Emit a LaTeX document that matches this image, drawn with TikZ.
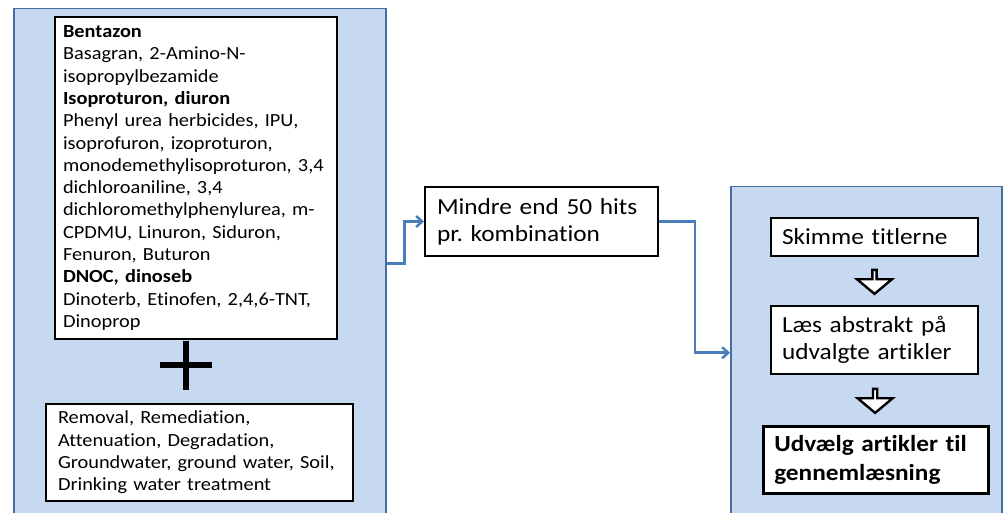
\documentclass[tikz,border=0pt]{standalone}
\usepackage{fontspec}
\setmainfont{Carlito}[FakeStretch=1.1,WordSpace=0.7,Ligatures=NoCommon]
\frenchspacing
\usetikzlibrary{arrows.meta,positioning,calc,shapes.arrows}
\usepackage{xcolor}
\definecolor{panelfill}{RGB}{198,217,241}
\definecolor{paneldraw}{RGB}{70,110,165}
\definecolor{flowblue}{RGB}{74,126,187}
\tikzset{
    panel/.style={
        draw=paneldraw,line width=1.5pt,fill=panelfill,
        anchor=north west,inner sep=0pt
    },
    textbox/.style={
        draw=black,line width=2pt,fill=white,align=left,
        anchor=north west,inner xsep=#1,inner ysep=5pt
    },
    textbox/.default=10pt,
    small/.style={font=\fontsize{18.5}{22.3}\selectfont},
    big/.style={font=\fontsize{23}{27}\selectfont},
    downarrow/.style={
        single arrow,draw=black,line width=2.4pt,fill=white,
        shape border rotate=270,minimum height=24pt,minimum width=35pt,
        single arrow head extend=8.5pt,single arrow tip angle=100,inner sep=0pt
    },
    flow/.style={
        -{Straight Barb[length=6pt,width=11pt]},line width=2.5pt,draw=flowblue
    }
}

\begin{document}
\begin{tikzpicture}[x=1pt,y=-1pt]

\useasboundingbox (0,0) rectangle (1005,513);

\node[panel,minimum width=372pt,minimum height=510pt]
(search) at (13,8){};

\node[panel,minimum width=271pt,minimum height=332pt]
(screen) at (730,186){};

\node[textbox=8pt,small,text width=266pt,minimum height=322pt]
(chem) at (54,16)
{\textbf{Bentazon}\\
Basagran, 2-Amino-N-\\
isopropylbezamide\\
\textbf{Isoproturon, diuron}\\
Phenyl urea herbicides, IPU,\\
isoprofuron, izoproturon,\\
monodemethylisoproturon, 3,4\\
dichloroaniline, 3,4\\
dichloromethylphenylurea, m-\\
CPDMU, Linuron, Siduron,\\
Fenuron, Buturon\\
\textbf{DNOC, dinoseb}\\
Dinoterb, Etinofen, 2,4,6-TNT,\\
Dinoprop};

% plus between the two search blocks
\draw[line width=6pt] (160,365) -- (212,365) (186,341) -- (186,390);

\node[textbox=12pt,small,text width=283pt,minimum height=97pt]
(terms) at (45,403)
{Removal, Remediation,\\
Attenuation, Degradation,\\
Groundwater, ground water, Soil,\\
Drinking water treatment};

\node[textbox=12pt,big,text width=209pt,minimum height=69pt]
(hits) at (424,186)
{Mindre end 50 hits\\
pr. kombination};

\node[textbox=11pt,big,text width=185pt,minimum height=38pt]
(skim) at (770,217){Skimme titlerne};

\node[textbox=11pt,big,text width=185pt,minimum height=68pt]
(read) at (770,305){Læs abstrakt på\\udvalgte artikler};

\node[textbox=11pt,big,text width=203pt,minimum height=67pt,
line width=2.5pt,font=\fontsize{23}{29}\selectfont\bfseries]
(pick) at (762,425){Udvælg artikler til\\gennemlæsning};

\node[downarrow] (step1) at ($(skim.south)!0.5!(read.north)$){};
\node[downarrow] (step2) at ($(read.south)!0.5!(pick.north)$){};

\draw[flow] (search.east) -- ++(18,0) |- (hits.west);
\draw[flow] (hits.east) -- ++(36,0) |- (screen.west);

\end{tikzpicture}
\end{document}
